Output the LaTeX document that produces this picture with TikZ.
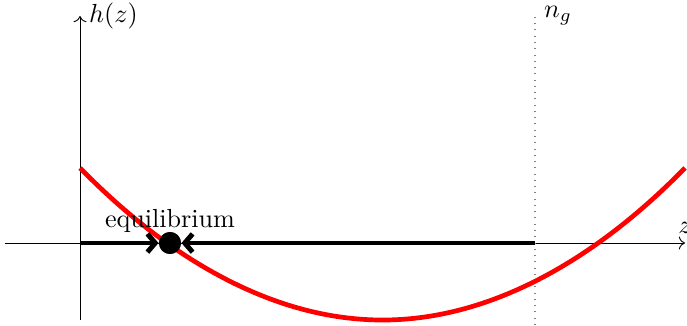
\documentclass[tikz,border=0pt]{standalone}
\usetikzlibrary{arrows.meta}
\begin{document}
\begin{tikzpicture}[x=0.383pt,y=-0.383pt,
  axis/.style={line width=0.35pt,->},
  curve/.style={red,line width=1.8pt},
  bar/.style={line width=1.9pt,-{Straight Barb[length=3pt,width=7pt]}},
  dotstyle/.style={circle,fill=black,inner sep=0pt,minimum size=8.4pt}]
\useasboundingbox (0,0) rectangle (687,325);
\coordinate (xs) at (5,243);
\coordinate (xe) at (685,243);
\coordinate (ys) at (80,320);
\coordinate (ye) at (80,16);
\coordinate (o) at (80,243);
\coordinate (ngt) at (535,16);
\coordinate (ngb) at (535,325);
\coordinate (ngx) at (535,243);
\coordinate (pl) at (80,168);
\coordinate (pm) at (382.5,320);
\coordinate (pr) at (685,168);
\draw[axis] (xs) -- (xe) node[above] (zl) {$z$};
\draw[axis] (ys) -- (ye) node[right] (hl) {$h(z)$};
\draw[dotted,gray] (ngb) -- (ngt) node[right,black] (ngl) {$n_g$};
\node[dotstyle] (eq) at (170,243) {};
\draw[curve] (pl) parabola bend (pm) (pr);
\draw[bar] (o) -- (eq.west);
\draw[bar] (ngx) -- (eq.east);
\node[dotstyle] (eq2) at (eq) {};
\node (eql) at (170,221) {equilibrium};
\end{tikzpicture}
\end{document}
